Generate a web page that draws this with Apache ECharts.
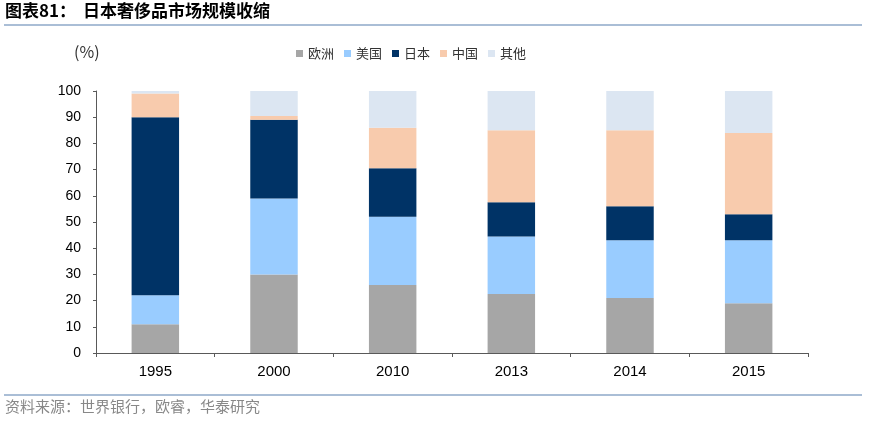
<!DOCTYPE html>
<html><head><meta charset="utf-8">
<script src="https://cdn.jsdelivr.net/npm/echarts@6/dist/echarts.min.js"></script>
<style>html,body{margin:0;padding:0;background:#fff}#c{width:870px;height:423px}</style>
</head><body><div id="c"></div>
<script>
var categories = ['1995','2000','2010','2013','2014','2015'];
var europe = [11, 30, 26, 22.5, 21, 19];
var usa = [11, 29, 26, 22, 22, 24];
var japan = [68, 30, 18.5, 13, 13, 10];
var china = [9, 1.5, 15.5, 27.5, 29, 31];
var other = [1, 9.5, 14, 15, 15, 16];
var seriesNames = ['欧洲','美国','日本','中国','其他'];
var colors = ['#A6A6A6','#99CCFF','#003366','#F8CBAD','#DCE6F2'];
var dataSets = [europe, usa, japan, china, other];

var chart = echarts.init(document.getElementById('c'));
chart.setOption({
  animation: false,
  color: colors,
  grid: {left: 96, right: 62, top: 91, bottom: 70},
  legend: {
    data: seriesNames, left: 296, top: 47, padding: 0, itemWidth: 7, itemHeight: 7, itemGap: 10,
    icon: 'rect',
    textStyle: {fontFamily: 'Noto Sans CJK SC', fontSize: 13, color: '#333'}
  },
  xAxis: {
    type: 'category', data: categories, boundaryGap: true,
    axisLine: {lineStyle: {color: '#595959', width: 1}},
    axisTick: {show: true, alignWithLabel: false, length: 4, lineStyle: {color: '#595959'}},
    axisLabel: {color: '#000', fontFamily: 'Liberation Sans, Arial', fontSize: 15, margin: 11}
  },
  yAxis: {
    type: 'value', min: 0, max: 100, interval: 10,
    axisLine: {show: true, lineStyle: {color: '#595959', width: 1}},
    axisTick: {show: true, length: 3, lineStyle: {color: '#595959'}},
    splitLine: {show: false},
    axisLabel: {color: '#000', fontFamily: 'Liberation Sans, Arial', fontSize: 14, margin: 15}
  },
  series: seriesNames.map(function(n, i){
    return {name: n, type: 'bar', stack: 'total', barWidth: '40%', data: dataSets[i]};
  }),
  graphic: [
    {type: 'text', left: 5, top: 2, style: {text: '图表81：', font: 'bold 17px "Noto Sans CJK SC"', fill: '#000'}},
    {type: 'text', left: 83, top: 2, style: {text: '日本奢侈品市场规模收缩', font: 'bold 17px "Noto Sans CJK SC"', fill: '#000'}},
    {type: 'line', shape: {x1: 4, y1: 25, x2: 862, y2: 25}, style: {stroke: '#8EA9C8', lineWidth: 1.5}},
    {type: 'text', left: 74, top: 44, style: {text: '(%)', font: '16px "Noto Sans CJK SC"', fill: '#333'}},
    {type: 'line', shape: {x1: 4, y1: 395, x2: 862, y2: 395}, style: {stroke: '#8EA9C8', lineWidth: 1.5}},
    {type: 'text', left: 5, top: 399, style: {text: '资料来源：世界银行，欧睿，华泰研究', font: '15px "Noto Sans CJK SC"', fill: '#888'}}
  ]
});
</script></body></html>
